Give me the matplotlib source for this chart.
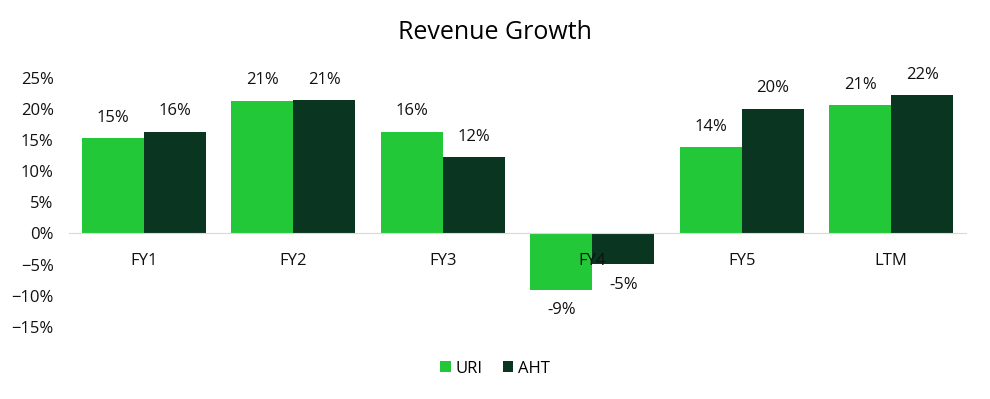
import numpy as np
import matplotlib.pyplot as plt
from matplotlib.ticker import PercentFormatter

categories = ["FY1", "FY2", "FY3", "FY4", "FY5", "LTM"]
uri = [0.153, 0.213, 0.163, -0.090, 0.138, 0.206]
aht = [0.163, 0.214, 0.122, -0.049, 0.200, 0.222]

URI_COLOR = "#22C838"
AHT_COLOR = "#0A3520"

plt.rcParams["font.family"] = ["Open Sans", "DejaVu Sans"]

fig = plt.figure(figsize=(9.9, 3.99), dpi=100)
ax = fig.add_axes([0.0697, 0.1805, 0.906, 0.625])

x = np.arange(len(categories))
w = 0.415
b1 = ax.bar(x - w / 2, uri, w, color=URI_COLOR, label="URI")
b2 = ax.bar(x + w / 2, aht, w, color=AHT_COLOR, label="AHT")

for bars, vals in ((b1, uri), (b2, aht)):
	ax.bar_label(bars, labels=[f"{v:.0%}" for v in vals], padding=9,
				 fontsize=12, color="#111111")

ax.set_xlim(-0.5, len(categories) - 0.5)
ax.set_ylim(-0.15, 0.25)
ax.set_yticks(np.arange(-0.15, 0.2501, 0.05))
ax.yaxis.set_major_formatter(PercentFormatter(1.0, decimals=0))

ax.set_xticks(x)
ax.set_xticklabels(categories)
ax.set_axisbelow(False)
ax.spines["bottom"].set_position(("data", 0))
ax.spines["bottom"].set_color("#D9D9D9")
for s in ("top", "right", "left"):
	ax.spines[s].set_visible(False)
ax.tick_params(axis="x", length=0, pad=14, labelsize=12, labelcolor="#111111")
ax.tick_params(axis="y", length=0, pad=11, labelsize=12, labelcolor="#111111")

fig.suptitle("Revenue Growth", x=0.5, y=0.95, fontsize=18, color="#000000")

fig.legend(loc="center", bbox_to_anchor=(0.5, 0.076), ncol=2, frameon=False,
		   fontsize=12, handlelength=0.65, handleheight=0.65, handletextpad=0.3,
		   columnspacing=1.2)

fig.savefig("out.png", dpi=100)
plt.close(fig)
